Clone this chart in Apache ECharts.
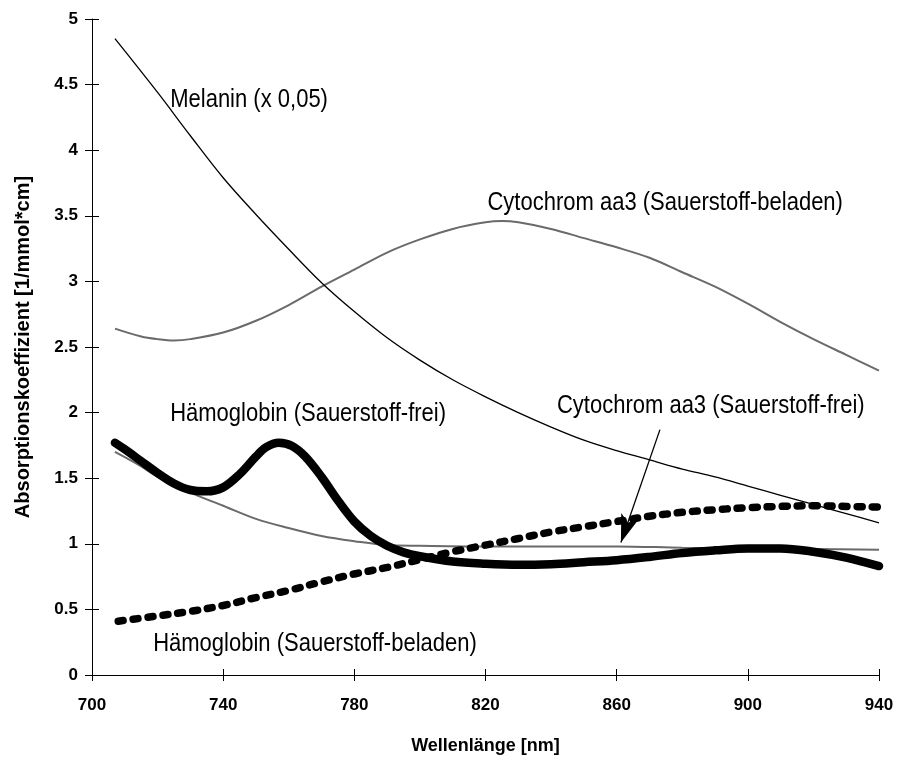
<!DOCTYPE html>
<html>
<head>
<meta charset="utf-8">
<script src="https://cdn.jsdelivr.net/npm/echarts@6/dist/echarts.min.js"></script>
<style>
html,body{margin:0;padding:0;background:#fff;}
#chart{width:897px;height:760px;}
</style>
</head>
<body>
<div id="chart"></div>
<script>
// Melanin (x 0,05)
const melaninWl = [707, 720, 730, 740, 750, 760, 770, 780, 790, 800, 810, 820, 830, 840, 850, 860, 870, 880, 890, 900, 910, 920, 930, 940];
const melaninVal = [4.85, 4.44, 4.11, 3.79, 3.51, 3.245, 2.99, 2.77, 2.57, 2.40, 2.25, 2.12, 2.00, 1.89, 1.79, 1.71, 1.64, 1.57, 1.51, 1.44, 1.37, 1.30, 1.23, 1.16];

// Cytochrom aa3 (Sauerstoff-beladen)
const cytOxWl = [707, 715, 720, 725, 730, 740, 750, 760, 770, 780, 790, 800, 810, 820, 825, 830, 840, 850, 860, 870, 880, 890, 900, 910, 920, 930, 940];
const cytOxVal = [2.64, 2.58, 2.56, 2.55, 2.56, 2.61, 2.70, 2.82, 2.96, 3.09, 3.22, 3.32, 3.40, 3.45, 3.46, 3.45, 3.40, 3.33, 3.26, 3.18, 3.07, 2.96, 2.83, 2.69, 2.56, 2.44, 2.32];

// Hämoglobin (Sauerstoff-frei)
const hbWl = [707, 710, 715, 720, 725, 730, 735, 740, 745, 750, 753, 757, 761, 765, 770, 775, 780, 785, 790, 795, 800, 810, 820, 830, 840, 850, 860, 870, 880, 890, 900, 910, 920, 930, 940];
const hbVal = [1.77, 1.72, 1.63, 1.54, 1.46, 1.41, 1.40, 1.43, 1.53, 1.665, 1.735, 1.77, 1.745, 1.665, 1.51, 1.33, 1.17, 1.06, 0.985, 0.935, 0.905, 0.865, 0.848, 0.84, 0.845, 0.86, 0.875, 0.90, 0.93, 0.95, 0.965, 0.965, 0.94, 0.895, 0.83];

// Hämoglobin (Sauerstoff-beladen)
const hbO2Wl = [708, 720, 730, 740, 750, 760, 770, 780, 790, 800, 810, 820, 830, 840, 850, 860, 870, 880, 890, 900, 910, 920, 930, 940];
const hbO2Val = [0.41, 0.45, 0.485, 0.53, 0.59, 0.645, 0.71, 0.77, 0.82, 0.88, 0.94, 0.99, 1.04, 1.09, 1.13, 1.17, 1.21, 1.24, 1.26, 1.275, 1.285, 1.29, 1.285, 1.28];

// Cytochrom aa3 (Sauerstoff-frei)
const cytRedWl = [707, 715, 720, 730, 740, 750, 760, 770, 780, 790, 800, 820, 840, 860, 880, 900, 920, 940];
const cytRedVal = [1.70, 1.59, 1.51, 1.39, 1.29, 1.19, 1.12, 1.06, 1.02, 0.99, 0.985, 0.98, 0.98, 0.98, 0.97, 0.965, 0.96, 0.955];

// Annotation texts and their anchor positions (data coordinates)
const labelTexts = ['Melanin (x 0,05)', 'Cytochrom aa3 (Sauerstoff-beladen)', 'Hämoglobin (Sauerstoff-frei)', 'Cytochrom aa3 (Sauerstoff-frei)', 'Hämoglobin (Sauerstoff-beladen)'];
const labelWl = [747.9, 874.8, 765.9, 888.7, 768.0];
const labelVal = [4.38, 3.60, 1.99, 2.05, 0.236];

// Arrow from label to Cytochrom aa3 (Sauerstoff-frei)
const arrowFrom = [873.2, 1.87];
const arrowTo = [861.3, 1.01];

const xTicks = {min: 700, max: 940, interval: 40};
const yTicks = {min: 0, max: 5, interval: 0.5};

const zip = (a, b) => a.map((v, i) => [v, b[i]]);

const textFont = '"Liberation Sans", Arial, sans-serif';
const axisFont = '"Liberation Sans", Arial, sans-serif';

const chart = echarts.init(document.getElementById('chart'), null, {renderer: 'canvas'});

const baseAxisX = {
  type: 'value', min: xTicks.min, max: xTicks.max, interval: xTicks.interval,
  splitLine: {show: false}
};
const baseAxisY = {
  type: 'value', min: yTicks.min, max: yTicks.max, interval: yTicks.interval,
  splitLine: {show: false}
};

const lineCommon = {type: 'line', smooth: 0.35, showSymbol: false, silent: true};

chart.setOption({
  animation: false,
  backgroundColor: '#ffffff',
  grid: {left: 92, right: 18, top: 19, bottom: 84, containLabel: false},
  xAxis: [
    Object.assign({}, baseAxisX, {
      position: 'bottom',
      name: 'Wellenlänge [nm]',
      nameLocation: 'middle',
      nameGap: 62,
      nameTextStyle: {fontFamily: axisFont, fontWeight: 'bold', fontSize: 18, color: '#000'},
      axisLine: {show: true, lineStyle: {color: '#000', width: 1}},
      axisTick: {show: true, inside: false, length: 6, lineStyle: {color: '#000', width: 1}},
      axisLabel: {show: true, margin: 22, fontFamily: axisFont, fontWeight: 'bold', fontSize: 17, color: '#000'}
    }),
    Object.assign({}, baseAxisX, {
      position: 'bottom',
      axisLine: {show: false},
      axisTick: {show: true, inside: true, length: 6, lineStyle: {color: '#000', width: 1}},
      axisLabel: {show: false}
    })
  ],
  yAxis: [
    Object.assign({}, baseAxisY, {
      position: 'left',
      name: 'Absorptionskoeffizient [1/mmol*cm]',
      nameLocation: 'middle',
      nameGap: 59,
      nameRotate: 90,
      nameTextStyle: {fontFamily: axisFont, fontWeight: 'bold', fontSize: 20, color: '#000'},
      axisLine: {show: true, lineStyle: {color: '#000', width: 1}},
      axisTick: {show: true, inside: false, length: 7, lineStyle: {color: '#000', width: 1}},
      axisLabel: {show: true, margin: 14, fontFamily: axisFont, fontWeight: 'bold', fontSize: 17, color: '#000'}
    }),
    Object.assign({}, baseAxisY, {
      position: 'left',
      axisLine: {show: false},
      axisTick: {show: true, inside: true, length: 7, lineStyle: {color: '#000', width: 1}},
      axisLabel: {show: false}
    })
  ],
  series: [
    Object.assign({}, lineCommon, {
      name: 'Cytochrom aa3 (Sauerstoff-beladen)',
      data: zip(cytOxWl, cytOxVal),
      lineStyle: {color: '#6a6a6a', width: 2}
    }),
    Object.assign({}, lineCommon, {
      name: 'Cytochrom aa3 (Sauerstoff-frei)',
      data: zip(cytRedWl, cytRedVal),
      lineStyle: {color: '#6a6a6a', width: 2},
      markLine: {
        silent: true, animation: false,
        symbol: ['none', 'arrow'], symbolSize: [14, 28],
        label: {show: false},
        lineStyle: {color: '#000', width: 1.3, type: 'solid'},
        data: [[{coord: arrowFrom}, {coord: arrowTo}]]
      }
    }),
    Object.assign({}, lineCommon, {
      name: 'Melanin (x 0,05)',
      data: zip(melaninWl, melaninVal),
      lineStyle: {color: '#000', width: 1.3}
    }),
    Object.assign({}, lineCommon, {
      name: 'Hämoglobin (Sauerstoff-beladen)',
      data: zip(hbO2Wl, hbO2Val),
      lineStyle: {color: '#000', width: 7.5, type: [5, 10], cap: 'round'}
    }),
    Object.assign({}, lineCommon, {
      name: 'Hämoglobin (Sauerstoff-frei)',
      data: zip(hbWl, hbVal),
      lineStyle: {color: '#000', width: 8.5, cap: 'round', join: 'round'}
    })
  ]
});

// Annotation texts placed at data coordinates (converted through the chart's own scales)
chart.setOption({
  graphic: labelTexts.map((t, i) => {
    const p = chart.convertToPixel({gridIndex: 0}, [labelWl[i], labelVal[i]]);
    return {
      type: 'text', silent: true, z: 100,
      x: p[0], y: p[1], scaleX: 0.88, scaleY: 1,
      style: {
        text: t, fill: '#000',
        font: '25px ' + textFont,
        align: 'center', verticalAlign: 'middle'
      }
    };
  })
});
</script>
</body>
</html>
